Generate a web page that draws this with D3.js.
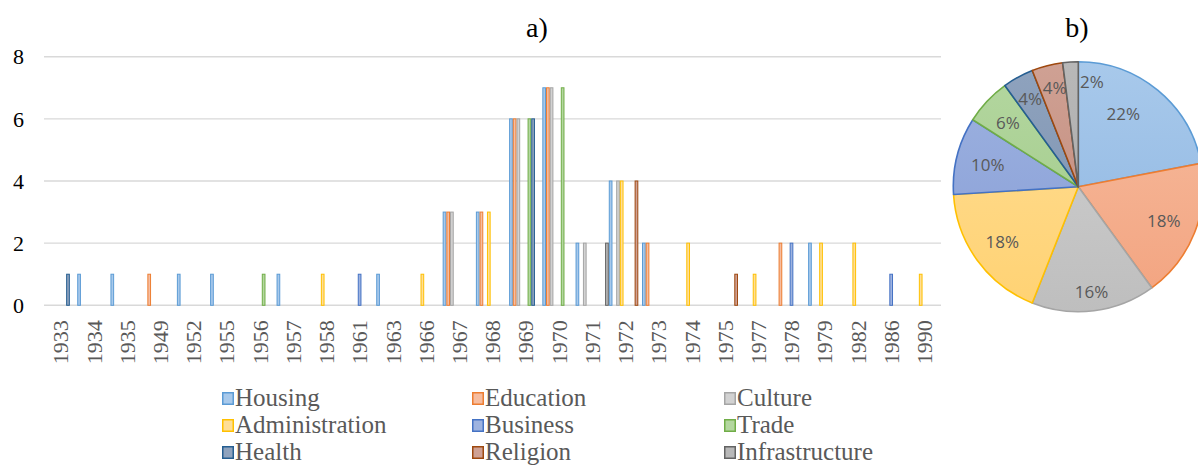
<!DOCTYPE html>
<html>
<head>
<meta charset="utf-8">
<script src="https://cdn.jsdelivr.net/npm/d3@7"></script>
<style>
  html, body { margin: 0; padding: 0; background: #fff; }
  svg { display: block; }
  .serif { font-family: "Liberation Serif", "Times New Roman", Times, "DejaVu Serif", serif; }
  .sans  { font-family: "Open Sans", "Noto Sans", "DejaVu Sans", sans-serif; }
</style>
</head>
<body>
<svg id="chart" width="1198" height="466"></svg>
<script>
// Years on the category axis
const years = [1933, 1934, 1935, 1949, 1952, 1955, 1956, 1957, 1958, 1961, 1963, 1966, 1967,
               1968, 1969, 1970, 1971, 1972, 1973, 1974, 1975, 1977, 1978, 1979, 1982, 1986, 1990];

// Building function categories
const categories = ["Housing", "Education", "Culture", "Administration", "Business",
                    "Trade", "Health", "Religion", "Infrastructure"];

// Number of buildings per year, one array per category (aligned with `years`)
const housing        = [0,1,1,0,1,1,0,1,0,0,1,0,3,3,6,7,2,4,2,0,0,0,0,2,0,0,0];
const education      = [0,0,0,1,0,0,0,0,0,0,0,0,3,3,6,7,0,0,2,0,0,0,2,0,0,0,0];
const culture        = [0,0,0,0,0,0,0,0,0,0,0,0,3,0,6,7,2,4,0,0,0,0,0,0,0,0,0];
const administration = [0,0,0,0,0,0,0,0,1,0,0,1,0,3,0,0,0,4,0,2,0,1,0,2,2,0,1];
const business       = [0,0,0,0,0,0,0,0,0,1,0,0,0,0,0,0,0,0,0,0,0,0,2,0,0,1,0];
const trade          = [0,0,0,0,0,0,1,0,0,0,0,0,0,0,6,7,0,0,0,0,0,0,0,0,0,0,0];
const health         = [1,0,0,0,0,0,0,0,0,0,0,0,0,0,6,0,0,0,0,0,0,0,0,0,0,0,0];
const religion       = [0,0,0,0,0,0,0,0,0,0,0,0,0,0,0,0,0,4,0,0,1,0,0,0,0,0,0];
const infrastructure = [0,0,0,0,0,0,0,0,0,0,0,0,0,0,0,0,2,0,0,0,0,0,0,0,0,0,0];

// Y-axis tick values
const yTicks = [0, 2, 4, 6, 8];

// Share of each category (percent), pie chart
const shares = [22, 18, 16, 18, 10, 6, 4, 4, 2];

const seriesValues = [housing, education, culture, administration, business,
                      trade, health, religion, infrastructure];

// Series colours: outline and lighter fill
const strokeColors = ["#5B9BD5", "#ED7D31", "#A5A5A5", "#FFC000", "#4472C4",
                      "#70AD47", "#255E91", "#9E480E", "#636363"];
const fillTop    = ["#A8C9EB", "#F6BDA0", "#D2D2D2", "#FFDE96", "#9EB3E0",
                    "#B4D7A0", "#8FA3BE", "#CFA194", "#B8B8B8"];
const fillBottom = ["#8DB5E1", "#F3A37F", "#BEBEBE", "#FFD273", "#869CD6",
                    "#9FC987", "#7A8FAE", "#C08676", "#A6A6A6"];

const svg = d3.select("#chart");
const defs = svg.append("defs");

// ---------------- a) clustered columns ----------------
const plot = { left: 44, right: 941, top: 56.7, bottom: 305.3 };

const x = d3.scaleBand().domain(years).range([plot.left, plot.right]).paddingInner(0).paddingOuter(0);
const xs = d3.scaleBand().domain(categories).range([0, x.bandwidth()]).padding(0);
const y = d3.scaleLinear().domain([0, 8]).range([plot.bottom, plot.top]);

// gridlines
svg.append("g").selectAll("line").data(yTicks).join("line")
  .attr("x1", plot.left).attr("x2", plot.right)
  .attr("y1", d => y(d)).attr("y2", d => y(d))
  .attr("stroke", "#D9D9D9").attr("stroke-width", 1.4);

// y tick labels
svg.append("g").selectAll("text").data(yTicks).join("text")
  .attr("class", "serif")
  .attr("x", 24).attr("y", d => y(d)).attr("dy", "0.35em")
  .attr("text-anchor", "end")
  .attr("font-size", 22).attr("fill", "#000")
  .text(d => d);

// x tick labels (rotated)
svg.append("g").selectAll("text").data(years).join("text")
  .attr("class", "serif")
  .attr("transform", d => `translate(${x(d) + x.bandwidth() / 2},${plot.bottom + 15}) rotate(-90)`)
  .attr("dy", "0.35em")
  .attr("text-anchor", "end")
  .attr("font-size", 22).attr("fill", "#595959")
  .text(d => d);

// bars
const barData = [];
seriesValues.forEach((vals, si) => {
  vals.forEach((v, yi) => {
    if (v > 0) barData.push({ si, year: years[yi], value: v });
  });
});

svg.append("g").selectAll("rect").data(barData).join("rect")
  .attr("x", d => x(d.year) + xs(categories[d.si]) + 0.5)
  .attr("y", d => y(d.value))
  .attr("width", xs.bandwidth() - 1)
  .attr("height", d => y(0) - y(d.value))
  .attr("fill", d => fillTop[d.si])
  .attr("stroke", d => strokeColors[d.si])
  .attr("stroke-width", 1);

// title a)
svg.append("text").attr("class", "serif").attr("x", 537).attr("y", 37).attr("text-anchor", "middle")
  .attr("font-size", 28).attr("fill", "#000").text("a)");

// legend: three columns, three rows
const legendCols = [222, 472, 724];
const legendRows = [406, 433, 460];
const legend = svg.append("g").selectAll("g").data(categories).join("g")
  .attr("transform", (d, i) => `translate(${legendCols[i % 3]},${legendRows[Math.floor(i / 3)]})`);
legend.append("rect")
  .attr("x", 0.75).attr("y", -13.25).attr("width", 10.5).attr("height", 11.5)
  .attr("fill", (d, i) => fillTop[i]).attr("stroke", (d, i) => strokeColors[i]).attr("stroke-width", 1.5);
legend.append("text")
  .attr("class", "serif")
  .attr("x", 13)
  .attr("font-size", 25).attr("fill", "#595959")
  .text(d => d);

// ---------------- b) pie ----------------
const cx = 1078.3, cy = 186.7, R = 125;

// vertical gradients for the slices
categories.forEach((c, i) => {
  const g = defs.append("linearGradient").attr("id", "pg" + i)
    .attr("gradientUnits", "userSpaceOnUse")
    .attr("x1", 0).attr("y1", -R).attr("x2", 0).attr("y2", R);
  g.append("stop").attr("offset", "0%").attr("stop-color", fillTop[i]);
  g.append("stop").attr("offset", "100%").attr("stop-color", fillBottom[i]);
});

const pie = d3.pie().sort(null).value(d => d)(shares);
const arc = d3.arc().innerRadius(0).outerRadius(R);

const pg = svg.append("g").attr("transform", `translate(${cx},${cy})`);
pg.selectAll("path").data(pie).join("path")
  .attr("d", arc)
  .attr("fill", (d, i) => `url(#pg${i})`)
  .attr("stroke", (d, i) => strokeColors[i])
  .attr("stroke-width", 1.6)
  .attr("stroke-linejoin", "round");

// label placement: radius and angular nudge (degrees) per slice
const labelRadius = [86, 92, 106, 94, 93, 95, 100, 102, 106];
const labelShift  = [-8, 0, 0, 0, -1, -1, 0, 1, 11];
pg.selectAll("text").data(pie).join("text")
  .attr("class", "sans")
  .attr("x", (d, i) => {
    const a = (d.startAngle + d.endAngle) / 2 + labelShift[i] * Math.PI / 180;
    return labelRadius[i] * Math.sin(a);
  })
  .attr("y", (d, i) => {
    const a = (d.startAngle + d.endAngle) / 2 + labelShift[i] * Math.PI / 180;
    return -labelRadius[i] * Math.cos(a);
  })
  .attr("dy", "0.36em")
  .attr("text-anchor", "middle")
  .attr("font-size", 17).attr("fill", "#595959")
  .text(d => d.data + "%");

// title b)
svg.append("text").attr("class", "serif").attr("x", 1077).attr("y", 37).attr("text-anchor", "middle")
  .attr("font-size", 28).attr("fill", "#000").text("b)");
</script>
</body>
</html>
